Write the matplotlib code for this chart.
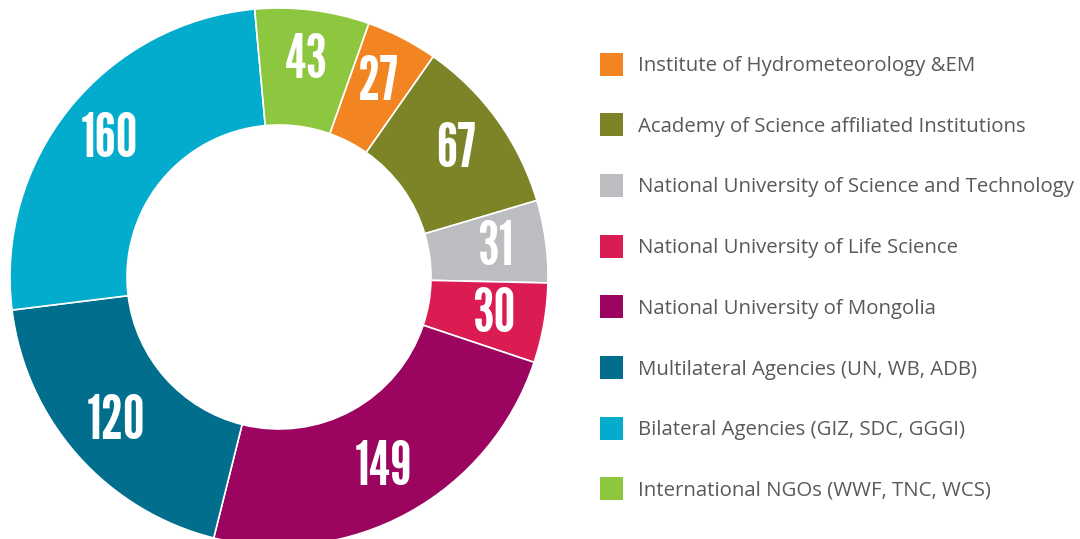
import matplotlib
matplotlib.use("Agg")
import matplotlib.pyplot as plt
from matplotlib.patches import Rectangle
import numpy as np

categories = [
    "Institute of Hydrometeorology &EM",
    "Academy of Science affiliated Institutions",
    "National University of Science and Technology",
    "National University of Life Science",
    "National University of Mongolia",
    "Multilateral Agencies (UN, WB, ADB)",
    "Bilateral Agencies (GIZ, SDC, GGGI)",
    "International NGOs (WWF, TNC, WCS)",
]
values = [27, 67, 31, 30, 149, 120, 160, 43]
colors = ["#F28522", "#7C8427", "#BCBDC0", "#DA1C52",
          "#9B045F", "#006E8C", "#03ABCD", "#8DC63F"]

W, H = 1080, 539
fig = plt.figure(figsize=(W / 100, H / 100), dpi=100)

cx, cy, R = 279, 277, 269
ax = fig.add_axes([(cx - R) / W, (H - cy - R) / H, 2 * R / W, 2 * R / H])

inner = 152 / 269
wedges, _ = ax.pie(values, colors=colors, startangle=70.5, counterclock=False,
                   radius=1, wedgeprops=dict(width=1 - inner, edgecolor="white", linewidth=1.2))
ax.set_xlim(-1, 1)
ax.set_ylim(-1, 1)
ax.axis("off")

label_r = 0.81
for w, v in zip(wedges, values):
    ang = np.deg2rad((w.theta1 + w.theta2) / 2)
    ax.text(label_r * np.cos(ang), label_r * np.sin(ang) + 0.02, str(v),
            ha="center", va="center_baseline", color="white",
            family=["League Gothic", "DejaVu Sans"], fontsize=44)

# legend
y0, dy = 64, 60.7
for i, (c, lab) in enumerate(zip(colors, categories)):
    yc = y0 + i * dy
    fig.add_artist(Rectangle((600 / W, (H - yc - 11.5) / H), 23 / W, 23 / H,
                             transform=fig.transFigure, facecolor=c, edgecolor="none"))
    fig.text(638 / W, (H - yc - 2) / H, lab, ha="left", va="center",
             family=["Open Sans", "DejaVu Sans"], fontsize=14.7, color="#58595B")

fig.savefig("out.png", dpi=100)
